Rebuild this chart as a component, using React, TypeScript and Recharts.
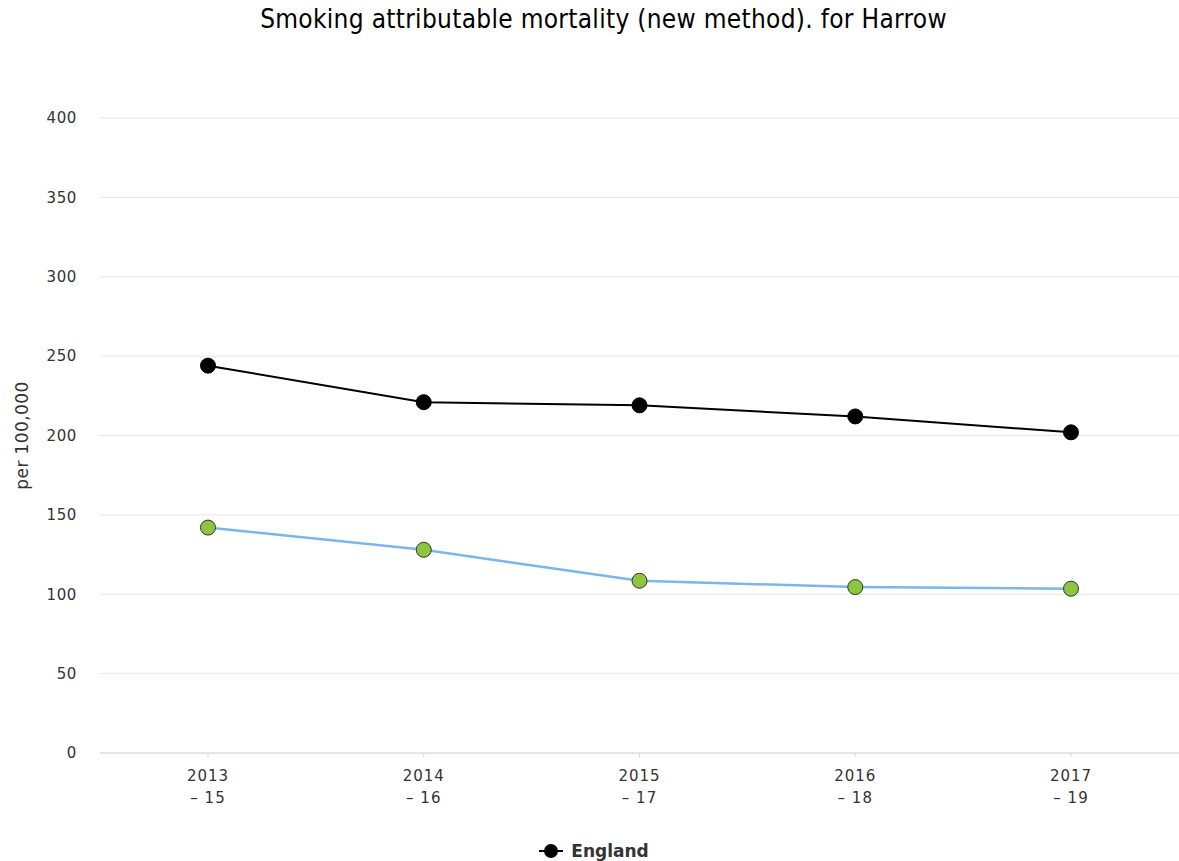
import { LineChart, Line, XAxis, YAxis, CartesianGrid, Legend } from "recharts";

const periods = ["2013 – 15", "2014 – 16", "2015 – 17", "2016 – 18", "2017 – 19"];
const englandValues = [244, 221, 219, 212, 202];
const harrowValues = [142, 128, 108.5, 104.5, 103.5];
const yTicks = [0, 50, 100, 150, 200, 250, 300, 350, 400];

const data = periods.map((p, i) => ({ period: p, england: englandValues[i], harrow: harrowValues[i] }));

const FONT = '"DejaVu Sans", Verdana, sans-serif';

// two-line category label like "2013" / "– 15"
const PeriodTick = ({ x, y, payload }: any) => {
  const [first, ...rest] = String(payload.value).split(" ");
  return (
    <g transform={`translate(${x},${y})`}>
      <text textAnchor="middle" fill="#333" fontSize={15} letterSpacing={1} fontFamily={FONT}>
        <tspan x={0} y={22}>{first}</tspan>
        <tspan x={0} y={44}>{rest.join(" ")}</tspan>
      </text>
    </g>
  );
};

const EnglandLegend = () => (
  <div style={{ display: "flex", justifyContent: "center", alignItems: "center", paddingTop: 28, marginLeft: 9 }}>
    <svg width={24} height={16} style={{ marginRight: 8 }}>
      <line x1={0} y1={8} x2={24} y2={8} stroke="#000" strokeWidth={2} />
      <circle cx={12} cy={8} r={7} fill="#000" />
    </svg>
    <span style={{ fontFamily: FONT, fontSize: 17, fontWeight: "bold", color: "#333" }}>England</span>
  </div>
);

export default function App() {
  return (
    <div style={{ position: "absolute", left: 0, top: 0, width: 1179, height: 861, background: "#fff" }}>
      <div
        style={{
          position: "absolute", top: 4, left: 14, width: 1179, textAlign: "center",
          fontFamily: '"DejaVu Sans Condensed", "DejaVu Sans", sans-serif', fontStretch: "condensed",
          fontSize: 26, letterSpacing: 0.3, lineHeight: "30px", color: "#000",
        }}
      >
        Smoking attributable mortality (new method). for Harrow
      </div>
      <LineChart width={1179} height={861} data={data} margin={{ top: 118, right: 0, bottom: 0, left: 0 }}>
        <CartesianGrid vertical={false} stroke="#e6e6e6" />
        <XAxis
          dataKey="period"
          padding={{ left: 108, right: 108 }}
          height={60}
          axisLine={{ stroke: "#ccd6eb" }}
          tickLine={{ stroke: "#ccd6eb" }}
          tickSize={4}
          tick={<PeriodTick />}
          interval={0}
        />
        <YAxis
          domain={[0, 400]}
          ticks={yTicks}
          width={100}
          axisLine={false}
          tickLine={false}
          tickSize={0}
          tickMargin={23}
          tick={{ fill: "#333", fontSize: 15, fontFamily: FONT, letterSpacing: 0.6 }}
          label={({ viewBox }: any) => (
            <text
              x={28}
              y={viewBox.y + viewBox.height / 2}
              transform={`rotate(-90, 28, ${viewBox.y + viewBox.height / 2})`}
              textAnchor="middle"
              fill="#333"
              fontSize={17}
              letterSpacing={0.4}
              fontFamily={FONT}
            >
              per 100,000
            </text>
          )}
        />
        <Legend verticalAlign="bottom" height={48} content={<EnglandLegend />} />
        <Line
          dataKey="england"
          stroke="#000"
          strokeWidth={2}
          dot={{ r: 7.5, fill: "#000", stroke: "#000", strokeWidth: 1 }}
          isAnimationActive={false}
        />
        <Line
          dataKey="harrow"
          stroke="#7cb5ec"
          strokeWidth={2.5}
          dot={{ r: 7.5, fill: "#8cc63f", stroke: "#333", strokeWidth: 1 }}
          isAnimationActive={false}
        />
      </LineChart>
    </div>
  );
}
